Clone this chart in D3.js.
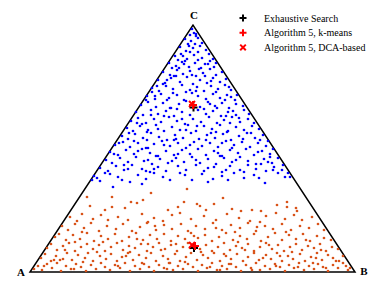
<!DOCTYPE html>
<html>
<head>
<meta charset="utf-8">
<script src="https://cdn.jsdelivr.net/npm/d3@7"></script>
<style>
  body { margin: 0; background: #fff; }
  text { font-family: "Liberation Serif", "Times New Roman", serif; }
</style>
</head>
<body>
<div id="chart"></div>
<script>
// svg size
var svgWidth = 387;
var svgHeight = 281;

// simplex corners in chart units
var cornerLabels = ["A", "B", "C"];
var cornerX = [0, 325, 163];
var cornerY = [0, 0, 247];

// cluster 1 (upper region, blue)
var cluster1 = [
  [162,243],[164,239],[160,237],[166,236],
  [155,233],[161,231],[168,234],[172,229],[158,228],[165,228],
  [150,225],[156,221],[163,224],[170,226],[176,222],[160,220],[168,220],
  [145,216],[151,218],[157,213],[164,217],[172,214],[179,218],[183,213],[148,212],[168,212],
  [139,209],[146,206],[152,210],[159,205],[165,209],[171,204],[178,208],[184,205],[186,209],[155,211],[142,204],
  [133,200],[140,197],[147,202],[153,198],[160,201],[166,196],[173,199],[180,203],[186,197],[192,200],[144,196],[169,203],
  [128,192],[135,189],[141,194],[150,190],[157,195],[163,188],[170,192],[177,189],[183,194],[190,190],[196,193],[146,196],[175,196],
  [122,184],[129,181],[136,186],[143,183],[152,187],[160,182],[167,185],[174,181],[181,186],[188,183],[195,187],[201,182],[133,188],[156,180],
  [117,176],[125,173],[131,178],[139,174],[147,177],[154,172],[168,176],[176,173],[183,178],[190,174],[197,177],[205,172],[207,177],[122,180],[162,179],[186,180],
  [111,167],[118,170],[126,165],[133,169],[141,164],[149,168],[170,165],[178,170],[185,166],[192,169],[199,164],[206,168],[213,166],[137,172],[156,171],[195,172],
  [106,160],[113,157],[121,162],[128,158],[136,161],[144,156],[152,160],[160,157],[168,162],[176,158],[183,161],[191,156],[198,160],[206,157],[214,162],[219,158],[140,164],[187,164],
  [101,151],[108,154],[116,149],[124,153],[131,150],[139,155],[147,151],[155,148],[163,153],[171,150],[179,155],[187,149],[194,152],[202,155],[210,150],[218,153],[224,149],[134,156],[196,156],
  [97,144],[103,141],[110,146],[118,142],[126,147],[134,141],[142,145],[150,142],[158,147],[166,141],[174,146],[182,143],[190,147],[198,141],[206,145],[214,142],[222,146],[229,143],[112,148],[186,140],
  [92,136],[98,133],[105,138],[113,134],[121,139],[129,135],[137,132],[145,137],[153,134],[161,139],[169,133],[177,137],[185,134],[193,138],[201,132],[209,136],[217,139],[225,134],[233,137],[117,132],[197,140],
  [85,127],[93,130],[100,125],[108,129],[116,124],[124,128],[132,131],[140,126],[148,129],[156,124],[164,130],[172,126],[180,129],[188,125],[196,131],[204,127],[212,130],[220,125],[228,129],[236,126],[238,131],[144,132],[176,132],
  [80,120],[88,117],[96,122],[104,118],[112,123],[120,119],[128,116],[136,121],[144,117],[152,122],[160,118],[168,123],[176,117],[184,121],[192,116],[200,122],[208,119],[216,123],[224,117],[232,121],[240,118],[243,123],[118,124],[202,124],
  [76,112],[82,109],[90,114],[98,110],[106,115],[114,111],[122,108],[130,113],[138,109],[146,114],[154,110],[162,115],[170,109],[178,113],[186,108],[194,114],[202,110],[210,115],[218,111],[226,108],[234,113],[242,109],[248,114],[126,116],[190,116],
  [70,104],[78,101],[86,106],[94,102],[102,107],[112,103],[120,100],[128,105],[136,101],[148,106],[156,102],[166,107],[174,101],[184,105],[192,100],[200,106],[210,102],[218,107],[226,103],[236,101],[244,105],[252,102],[253,107],
  [64,96],[67,94],[70,91],[80,98],[88,95],[100,90],[108,97],[116,93],[124,99],[133,95],[155,97],[162,92],[172,98],[183,93],[192,96],[204,99],[214,94],[224,97],[235,89],[243,102],[255,95],[258,99],[83,85],
  [159,226],[153,216],[175,208],[149,204],[162,197],[137,192],[181,191],[127,186],[166,181],[199,185],[116,172],[143,179],[180,168],[201,175],
  [121,157],[147,163],[174,163],[203,161],[107,149],[152,153],[167,146],[209,154],[221,139],[99,139],[128,143],[146,133],[181,139],[213,133],
  [89,129],[134,127],[160,127],[192,129],[230,132],[84,118],[108,121],[148,118],[188,119],[228,120],[94,107],[118,112],[142,111],[166,112],
  [206,112],[238,110],[75,99],[98,103],[124,103],[150,99],[178,104],[214,100],[248,99],[92,92],[112,88],[140,92],[178,90],[198,92],[229,94],
  [116,101],[196,102],[240,115],[104,131],[156,142],[200,149],[125,176],[180,211],[166,238],[154,208],[117,140],[231,108],[62,92],[260,95]
];

// cluster 2 (lower region, orange)
var cluster2 = [
  [57,75],[82,75],[121,79],[157,83],[82,65],[101,70],[107,69],[113,72],[95,64],[148,65],[154,70],[167,68],[193,74],[170,66],[184,68],
  [176,62],[202,63],[211,61],[222,62],[231,61],[247,67],[257,70],[257,65],[266,64],[267,61],[60,66],[75,62],[138,62],
  [40,55],[52,58],[63,53],[71,57],[88,55],[98,52],[112,58],[124,54],[133,51],[142,57],[150,59],[161,53],[174,56],[186,52],[197,58],
  [209,54],[220,51],[236,56],[246,59],[255,53],[264,57],[272,52],[282,55],[47,51],[118,50],[230,50],
  [32,46],[38,42],[45,48],[54,44],[61,49],[69,41],[77,46],[86,43],[93,48],[102,41],[110,45],[117,49],[126,42],[134,47],[142,43],[151,48],
  [158,41],[166,46],[175,43],[183,49],[192,42],[201,47],[210,44],[218,49],[226,41],[235,46],[243,43],[252,48],[261,42],[270,46],[279,44],[288,48],[294,42],
  [25,35],[29,38],[36,32],[43,37],[50,33],[57,39],[64,31],[71,36],[78,33],[85,38],[92,31],[99,35],[106,39],[113,32],[120,37],[127,33],[134,38],[141,31],
  [148,36],[155,33],[161,39],[168,34],[175,37],[182,31],[189,35],[196,39],[203,32],[210,36],[217,33],[224,38],[231,31],[238,35],[245,39],[252,32],
  [259,37],[266,33],[273,38],[280,31],[287,36],[294,34],[301,32],
  [17,24],[21,28],[27,22],[33,26],[39,29],[45,21],[51,25],[57,28],[63,23],[69,27],[75,21],[81,25],[87,29],[93,22],[99,26],[105,24],[111,28],[117,21],
  [123,25],[129,29],[135,23],[141,27],[147,21],[153,25],[158,29],[170,23],[176,27],[182,21],[188,25],[194,29],[200,22],[206,26],[212,24],[218,28],
  [224,21],[230,25],[236,29],[242,23],[248,27],[254,21],[260,25],[266,28],[272,22],[278,26],[284,24],[290,28],[296,21],[302,25],[308,23],
  [11,14],[15,18],[21,11],[26,16],[33,13],[37,19],[42,12],[48,17],[55,14],[58,19],[63,11],[70,16],[76,13],[81,18],[87,11],[92,15],[98,19],[103,12],
  [109,17],[116,14],[121,19],[126,11],[133,16],[138,13],[145,18],[150,11],[156,15],[161,19],[167,12],[173,17],[178,14],[184,19],[190,11],[196,16],
  [201,13],[207,18],[213,11],[218,15],[224,19],[229,12],[236,17],[241,13],[247,19],[252,11],[258,16],[263,13],[270,18],[275,11],[281,15],[287,19],
  [292,12],[298,17],[303,14],[309,11],[313,16],
  [4,3],[8,6],[12,2],[17,8],[22,4],[27,9],[31,1],[36,6],[41,3],[46,8],[51,5],[56,1],[61,7],[66,3],[71,9],[75,5],[80,2],[85,7],[90,4],[95,9],
  [100,1],[105,6],[110,3],[114,8],[119,5],[124,1],[129,7],[134,4],[139,9],[143,2],[148,6],[153,3],[158,8],[163,5],[168,1],[172,7],[177,4],[182,9],
  [187,2],[192,6],[197,3],[201,8],[206,5],[211,1],[216,7],[221,4],[226,9],[230,2],[235,6],[240,3],[245,8],[250,5],[255,1],[259,7],[264,4],[269,9],
  [274,2],[279,6],[284,3],[288,8],[293,5],[298,1],[303,7],[308,4],[313,9],[318,2],[320,4],
  [14,6],[24,12],[35,22],[44,3],[53,10],[67,20],[73,30],[88,6],[96,16],[107,33],[112,9],[131,22],[137,3],[146,28],[155,10],[164,36],[171,20],
  [180,5],[186,44],[194,18],[199,8],[208,30],[215,22],[222,2],[233,14],[239,27],[246,6],[256,40],[262,20],[268,5],[276,32],[283,9],[291,22],
  [296,4],[306,11],[316,6],[190,2],[160,24],[125,46],[78,52],[45,30],[100,20],[140,9],[227,45],[250,16],[30,12],[52,40],[118,28],[205,40],[286,14]
];

// cluster centres for each method: [cluster1, cluster2]
var methods = ["Exhaustive Search", "Algorithm 5, k-means", "Algorithm 5, DCA-based"];
var centersX = [[163.5, 164], [163, 165], [162, 162]];
var centersY = [[164.5, 24], [167, 26], [168, 27]];

// scales
var xScale = d3.scaleLinear().domain([0, 325]).range([30, 355]);
var yScale = d3.scaleLinear().domain([0, 247]).range([272, 25]);

var svg = d3.select("#chart")
  .append("svg")
  .attr("width", svgWidth)
  .attr("height", svgHeight);

// triangle outline
var line = d3.line()
  .x(d => xScale(d[0]))
  .y(d => yScale(d[1]));
var corners = cornerX.map((x, i) => [x, cornerY[i]]);

svg.append("path")
  .attr("d", line(corners) + "Z")
  .attr("fill", "none")
  .attr("stroke", "#000")
  .attr("stroke-width", 1.5)
  .attr("stroke-linejoin", "miter");

// points
svg.append("g").selectAll("circle")
  .data(cluster1)
  .enter()
  .append("circle")
  .attr("cx", d => xScale(d[0]))
  .attr("cy", d => yScale(d[1]))
  .attr("r", 1.35)
  .attr("fill", "#0000ff");

svg.append("g").selectAll("circle")
  .data(cluster2)
  .enter()
  .append("circle")
  .attr("cx", d => xScale(d[0]))
  .attr("cy", d => yScale(d[1]))
  .attr("r", 1.35)
  .attr("fill", "#d95319");

// marker shapes
var plusPath = "M-4,0H4M0,-4V4";
var crossPath = "M-3,-3L3,3M-3,3L3,-3";
var markerPaths = [plusPath, plusPath, crossPath];
var markerColors = ["#000", "#ff0000", "#ff0000"];

// centres
methods.forEach((m, i) => {
  centersX[i].forEach((cx, j) => {
    svg.append("path")
      .attr("d", markerPaths[i])
      .attr("transform", `translate(${xScale(cx)},${yScale(centersY[i][j])})`)
      .attr("stroke", markerColors[i])
      .attr("stroke-width", 2)
      .attr("fill", "none");
  });
});

// corner labels
var labelOffsets = [[-9, 4], [9, 3], [1, -6]];
cornerLabels.forEach((lab, i) => {
  svg.append("text")
    .attr("x", xScale(cornerX[i]) + labelOffsets[i][0])
    .attr("y", yScale(cornerY[i]) + labelOffsets[i][1])
    .attr("text-anchor", "middle")
    .attr("font-size", "11px")
    .attr("font-weight", "bold")
    .text(lab);
});

// legend
var legend = svg.append("g")
  .attr("transform", "translate(243, 18)");

methods.forEach((m, i) => {
  var row = legend.append("g")
    .attr("transform", `translate(0, ${i * 14.7})`);
  row.append("path")
    .attr("d", i == 2 ? "M-2.8,-2.8L2.8,2.8M-2.8,2.8L2.8,-2.8" : "M-3.5,0H3.5M0,-3.5V3.5")
    .attr("stroke", markerColors[i])
    .attr("stroke-width", 2)
    .attr("fill", "none");
  row.append("text")
    .attr("x", 21)
    .attr("y", 3.5)
    .attr("font-size", "10px")
    .text(m);
});
</script>
</body>
</html>
